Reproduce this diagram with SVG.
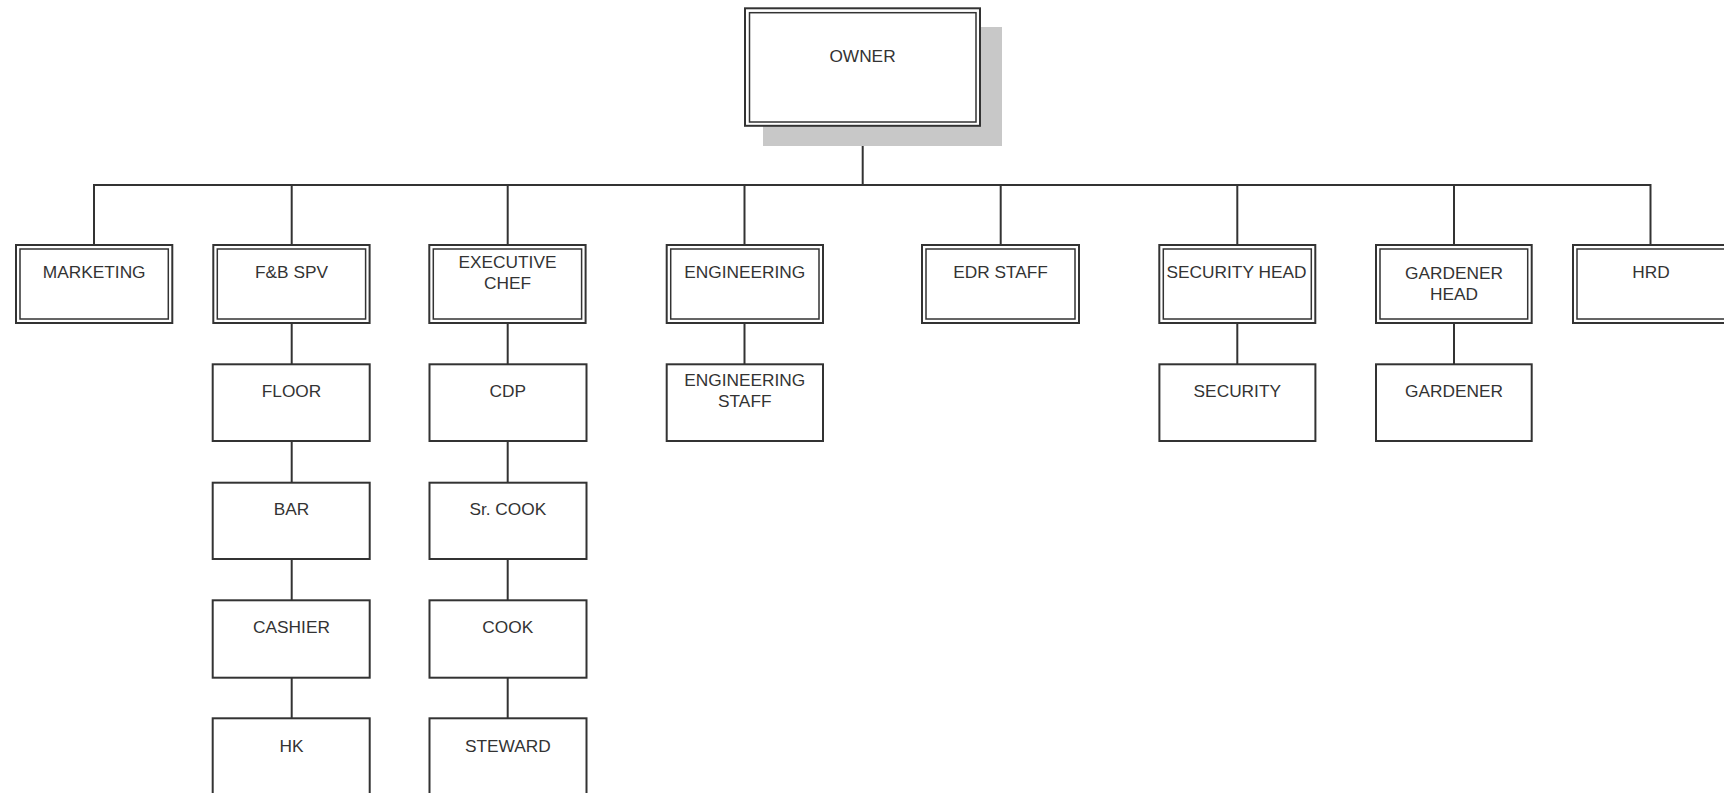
<svg xmlns="http://www.w3.org/2000/svg" width="1724" height="793" viewBox="0 0 1724 793">
<style>
  .o{fill:#fff;stroke:#333;stroke-width:2}
  .i{fill:none;stroke:#333;stroke-width:1.5}
  .b{fill:#fff;stroke:#333;stroke-width:2}
  .t{font-family:"Liberation Sans",Arial,sans-serif;font-size:17.3px;fill:#333;text-anchor:middle}
  .c{stroke:#333;stroke-width:2;fill:none}
</style>
<rect width="1724" height="793" fill="#fff"/>
<g id="connectors">
  <line class="c" x1="862.7" y1="127" x2="862.7" y2="185"/>
  <line class="c" x1="94" y1="185" x2="1650.5" y2="185"/>
  <line class="c" x1="94" y1="184" x2="94" y2="245"/>
  <line class="c" x1="291.7" y1="184" x2="291.7" y2="245"/>
  <line class="c" x1="507.7" y1="184" x2="507.7" y2="245"/>
  <line class="c" x1="744.5" y1="184" x2="744.5" y2="245"/>
  <line class="c" x1="1000.7" y1="184" x2="1000.7" y2="245"/>
  <line class="c" x1="1237.3" y1="184" x2="1237.3" y2="245"/>
  <line class="c" x1="1454" y1="184" x2="1454" y2="245"/>
  <line class="c" x1="1650.5" y1="184" x2="1650.5" y2="245"/>
  <line class="c" x1="291.7" y1="323" x2="291.7" y2="364"/>
  <line class="c" x1="291.7" y1="441" x2="291.7" y2="482"/>
  <line class="c" x1="291.7" y1="559" x2="291.7" y2="600"/>
  <line class="c" x1="291.7" y1="677" x2="291.7" y2="718"/>
  <line class="c" x1="507.7" y1="323" x2="507.7" y2="364"/>
  <line class="c" x1="507.7" y1="441" x2="507.7" y2="482"/>
  <line class="c" x1="507.7" y1="559" x2="507.7" y2="600"/>
  <line class="c" x1="507.7" y1="677" x2="507.7" y2="718"/>
  <line class="c" x1="744.5" y1="323" x2="744.5" y2="364"/>
  <line class="c" x1="1237.3" y1="323" x2="1237.3" y2="364"/>
  <line class="c" x1="1454" y1="323" x2="1454" y2="364"/>
</g>
<g id="owner">
  <rect x="763" y="27" width="239" height="119" fill="#c8c8c8"/>
  <rect class="o" x="745" y="8.3" width="235" height="117.5"/>
  <rect class="i" x="749.5" y="12.7" width="226.5" height="109.3"/>
  <text class="t" x="862.5" y="61.7">OWNER</text>
</g>
<g id="marketing">
  <rect class="o" x="16" y="245" width="156.3" height="78"/>
  <rect class="i" x="20" y="249" width="148.3" height="70"/>
  <text class="t" x="94.2" y="278.3">MARKETING</text>
</g>
<g id="fb-spv">
  <rect class="o" x="213.3" y="245" width="156.3" height="78"/>
  <rect class="i" x="217.3" y="249" width="148.3" height="70"/>
  <text class="t" x="291.5" y="278.3">F&amp;B SPV</text>
</g>
<g id="executive-chef">
  <rect class="o" x="429.3" y="245" width="156.3" height="78"/>
  <rect class="i" x="433.3" y="249" width="148.3" height="70"/>
  <text class="t" x="507.5" y="268.3">EXECUTIVE</text>
  <text class="t" x="507.5" y="289">CHEF</text>
</g>
<g id="engineering">
  <rect class="o" x="666.7" y="245" width="156.3" height="78"/>
  <rect class="i" x="670.7" y="249" width="148.3" height="70"/>
  <text class="t" x="744.8" y="278.3">ENGINEERING</text>
</g>
<g id="edr-staff">
  <rect class="o" x="922" y="245" width="157" height="78"/>
  <rect class="i" x="926" y="249" width="149" height="70"/>
  <text class="t" x="1000.5" y="278.3">EDR STAFF</text>
</g>
<g id="security-head">
  <rect class="o" x="1159.3" y="245" width="156" height="78"/>
  <rect class="i" x="1163.3" y="249" width="148" height="70"/>
  <text class="t" x="1236.5" y="278.3">SECURITY HEAD</text>
</g>
<g id="gardener-head">
  <rect class="o" x="1376" y="245" width="155.7" height="78"/>
  <rect class="i" x="1380" y="249" width="147.7" height="70"/>
  <text class="t" x="1454" y="279.3">GARDENER</text>
  <text class="t" x="1454" y="300">HEAD</text>
</g>
<g id="hrd">
  <rect class="o" x="1573" y="245" width="156" height="78"/>
  <rect class="i" x="1577" y="249" width="148" height="70"/>
  <text class="t" x="1651" y="278.3">HRD</text>
</g>
<g id="floor">
  <rect class="b" x="212.7" y="364.3" width="157" height="76.7"/>
  <text class="t" x="291.5" y="396.7">FLOOR</text>
</g>
<g id="bar">
  <rect class="b" x="212.7" y="482.7" width="157" height="76.3"/>
  <text class="t" x="291.5" y="515">BAR</text>
</g>
<g id="cashier">
  <rect class="b" x="212.7" y="600.3" width="157" height="77.4"/>
  <text class="t" x="291.5" y="633.3">CASHIER</text>
</g>
<g id="hk">
  <rect class="b" x="212.7" y="718.3" width="157" height="90"/>
  <text class="t" x="291.5" y="751.7">HK</text>
</g>
<g id="cdp">
  <rect class="b" x="429.5" y="364.3" width="157" height="76.7"/>
  <text class="t" x="507.8" y="396.7">CDP</text>
</g>
<g id="sr-cook">
  <rect class="b" x="429.5" y="482.7" width="157" height="76.3"/>
  <text class="t" x="507.8" y="515">Sr. COOK</text>
</g>
<g id="cook">
  <rect class="b" x="429.5" y="600.3" width="157" height="77.4"/>
  <text class="t" x="507.8" y="633.3">COOK</text>
</g>
<g id="steward">
  <rect class="b" x="429.5" y="718.3" width="157" height="90"/>
  <text class="t" x="507.8" y="751.7">STEWARD</text>
</g>
<g id="engineering-staff">
  <rect class="b" x="666.7" y="364.3" width="156.3" height="76.7"/>
  <text class="t" x="744.8" y="386">ENGINEERING</text>
  <text class="t" x="744.8" y="406.7">STAFF</text>
</g>
<g id="security">
  <rect class="b" x="1159.4" y="364.3" width="156" height="76.7"/>
  <text class="t" x="1237.3" y="396.7">SECURITY</text>
</g>
<g id="gardener">
  <rect class="b" x="1376" y="364.3" width="155.7" height="76.7"/>
  <text class="t" x="1454" y="396.7">GARDENER</text>
</g>
</svg>
